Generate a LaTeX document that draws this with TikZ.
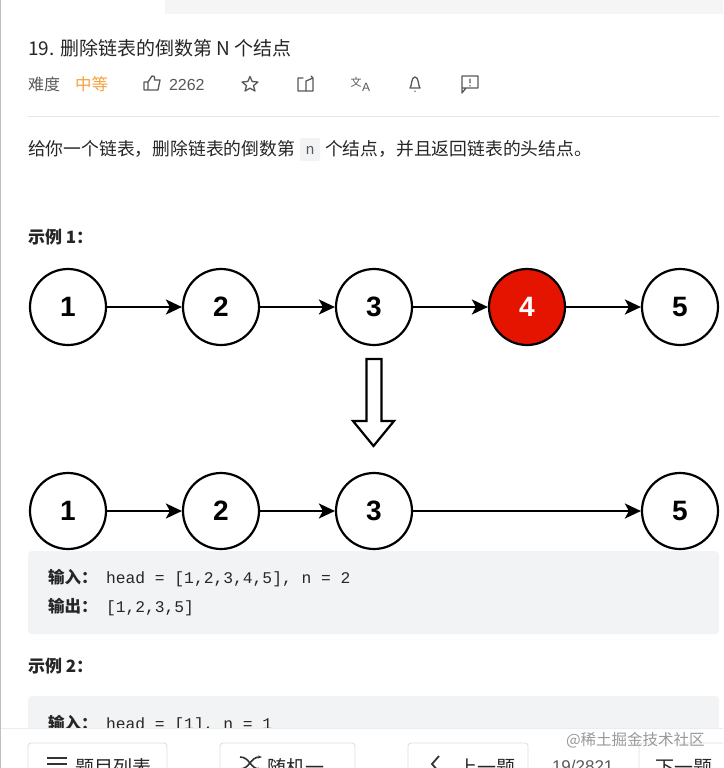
\documentclass[tikz,border=0pt]{standalone}
\usepackage{fontspec}
\setmainfont{Noto Sans CJK SC}
\newfontfamily\arialf{Liberation Sans}
\newfontfamily\monof{Liberation Mono}
\definecolor{ink}{HTML}{262626}
\definecolor{grayt}{HTML}{595959}
\definecolor{codebg}{HTML}{F2F3F5}
\definecolor{rulec}{HTML}{E6E6E6}
\definecolor{orangec}{HTML}{F5A13C}
\definecolor{redc}{HTML}{E51400}
\definecolor{framec}{HTML}{DDDDDD}
\usetikzlibrary{arrows.meta}
\tikzset{
  x=1pt,y=-1pt,
  listnode/.style={circle,draw=black,line width=2.2pt,fill=white,minimum size=76pt,inner sep=0pt,font=\arialf\fontsize{28}{28}\selectfont\bfseries},
  hotnode/.style={listnode,fill=redc,text=white},
  link/.style={-{Stealth[length=16pt,width=15pt,inset=4pt]},line width=2.2pt,black},
  txt/.style={anchor=base west,inner sep=0pt,outer sep=0pt},
  title/.style={txt,text=ink,font=\fontsize{19}{19}\selectfont},
  body/.style={txt,text=ink,font=\fontsize{17.8}{18}\selectfont},
  meta/.style={txt,text=grayt,font=\fontsize{16}{16}\selectfont},
  heading/.style={txt,text=ink,font=\fontsize{17}{17}\selectfont\bfseries},
  code/.style={txt,text=ink,font=\monof\fontsize{16.3}{16}\selectfont},
  codelabel/.style={txt,text=ink,font=\fontsize{16.5}{16}\selectfont\bfseries},
  footbtn/.style={draw=framec,line width=.8pt,fill=white,rounded corners=3pt},
  foottxt/.style={txt,text=ink,font=\fontsize{19}{19}\selectfont},
  icon/.style={draw=grayt,line width=1.3pt,line join=round,line cap=round},
}
\begin{document}
\begin{tikzpicture}
\useasboundingbox (0,0) rectangle (723,768);
\clip (0,0) rectangle (723,768);
\fill[white] (0,0) rectangle (723,768);
\fill[gray!8] (165,0) rectangle (723,14);
\draw[gray!50,line width=1pt] (.5,0) -- (.5,768);
% header
\node[title] (t1) at (28,56) {19. 删除链表的倒数第 N 个结点};
\node[meta] (m1) at (28,90) {难度};
\node[txt,text=orangec,font=\fontsize{16.5}{16}\selectfont] (m2) at (75,90) {中等};
\node[txt,text=grayt,font=\arialf\fontsize{16}{16}\selectfont] (m3) at (169,90) {2262};
% like icon
\draw[icon] (144,90) -- (144,82) -- (148,82) -- (148,90) -- cycle
  (148,82) -- (152,76) .. controls (154,75) and (155,77) .. (154.5,80) -- (160,80) -- (158,90) -- (148,90);
% star
\draw[icon] (250,76.5) -- (252.2,81.5) -- (258,82) -- (253.5,85.7) -- (255,91) -- (250,88.2) -- (245,91) -- (246.5,85.7) -- (242,82) -- (247.8,81.5) -- cycle;
% share
\draw[icon] (303,78) -- (298,78) -- (298,91) -- (313,91) -- (313,78) (306,91) -- (306,81) -- (313,78) -- (311,76);
% translate
\node[txt,text=grayt,font=\fontsize{11}{11}\selectfont] (tr1) at (350.5,86) {文};
\node[txt,text=grayt,font=\arialf\fontsize{12}{12}\selectfont] (tr2) at (362,92) {A};
% bell
\draw[icon] (410,88) .. controls (412,86) and (411,77) .. (415,77) .. controls (419,77) and (418,86) .. (420,88) -- cycle (415,91) -- (415,91.5);
% comment
\draw[icon] (462,76) rectangle (478,88) (462,88) -- (462,93) -- (466,88) (470,79) -- (470,83) (470,85.5) -- (470,86);
\draw[rulec,line width=1pt] (28,116) -- (719,116);
% description
\fill[codebg,rounded corners=2pt] (300,138) rectangle (320,161);
\node[body] (d1) at (28,155) {给你一个链表^^^^ff0c删除链表的倒数第};
\node[txt,text=grayt,font=\monof\fontsize{15}{15}\selectfont] (d2) at (305.5,154) {n};
\node[body] (d3) at (325,155) {个结点^^^^ff0c并且返回链表的头结点。};
\node[heading] (h1) at (28,243) {示例 1^^^^ff1a};
% list one
\node[listnode] (a1) at (68,307) {1};
\node[listnode] (a2) at (221,307) {2};
\node[listnode] (a3) at (374,307) {3};
\node[hotnode] (a4) at (527,307) {4};
\node[listnode] (a5) at (680,307) {5};
\draw[link] (a1) -- (a2);
\draw[link] (a2) -- (a3);
\draw[link] (a3) -- (a4);
\draw[link] (a4) -- (a5);
% big arrow
\draw[black,line width=2.2pt,fill=white,line join=miter] (366.5,359) -- (381.5,359) -- (381.5,421) -- (394,421) -- (373.5,446) -- (353,421) -- (366.5,421) -- cycle;
% list two
\fill[codebg,rounded corners=4pt] (28,551) rectangle (719,634);
\node[listnode] (b1) at (68,511) {1};
\node[listnode] (b2) at (221,511) {2};
\node[listnode] (b3) at (374,511) {3};
\node[listnode] (b5) at (680,511) {5};
\draw[link] (b1) -- (b2);
\draw[link] (b2) -- (b3);
\draw[link] (b3) -- (b5);
% example text
\node[codelabel] (c1) at (48,583) {输入^^^^ff1a};
\node[code] (c2) at (106,583) {head = [1,2,3,4,5], n = 2};
\node[codelabel] (c3) at (48,612) {输出^^^^ff1a};
\node[code] (c4) at (106,612) {[1,2,3,5]};
\node[heading] (h2) at (28,672) {示例 2^^^^ff1a};
\fill[codebg,rounded corners=4pt] (28,696) rectangle (719,780);
\node[codelabel] (c5) at (48,729) {输入^^^^ff1a};
\node[code] (c6) at (106,729) {head = [1], n = 1};
% footer
\fill[white] (0,728) rectangle (723,768);
\draw[gray!15,line width=.8pt] (0,728) -- (723,728);
\draw[gray!50,line width=1pt] (.5,728) -- (.5,768);
\draw[footbtn] (28,780) rectangle (167,743);
\draw[footbtn] (220,780) rectangle (355,743);
\draw[footbtn] (408,780) rectangle (528,743);
\draw[footbtn] (639,780) rectangle (740,743);
\node[foottxt] (f1) at (75,774) {题目列表};
\draw[black!80,line width=1.5pt] (47,758) -- (67,758) (47,764) -- (67,764);
\node[foottxt] (f2) at (267,774) {随机一};
\draw[black!80,line width=1.6pt,-{Stealth[length=4pt]}] (240,769) .. controls (250,769) and (250,757) .. (262,757);
\draw[black!80,line width=1.6pt,-{Stealth[length=4pt]}] (240,757) .. controls (250,757) and (250,769) .. (262,769);
\draw[black!80,line width=1.8pt] (439,756) -- (432,764) -- (439,772);
\node[foottxt] (f3) at (458,774) {上一题};
\node[txt,text=grayt,font=\arialf\fontsize{17}{17}\selectfont] (f4) at (552,772) {19/2821};
\node[foottxt] (f5) at (655,774) {下一题};
\node[txt,text=black!40,font=\fontsize{15.5}{15}\selectfont] (wm) at (566,745) {@稀土掘金技术社区};
\end{tikzpicture}
\end{document}
